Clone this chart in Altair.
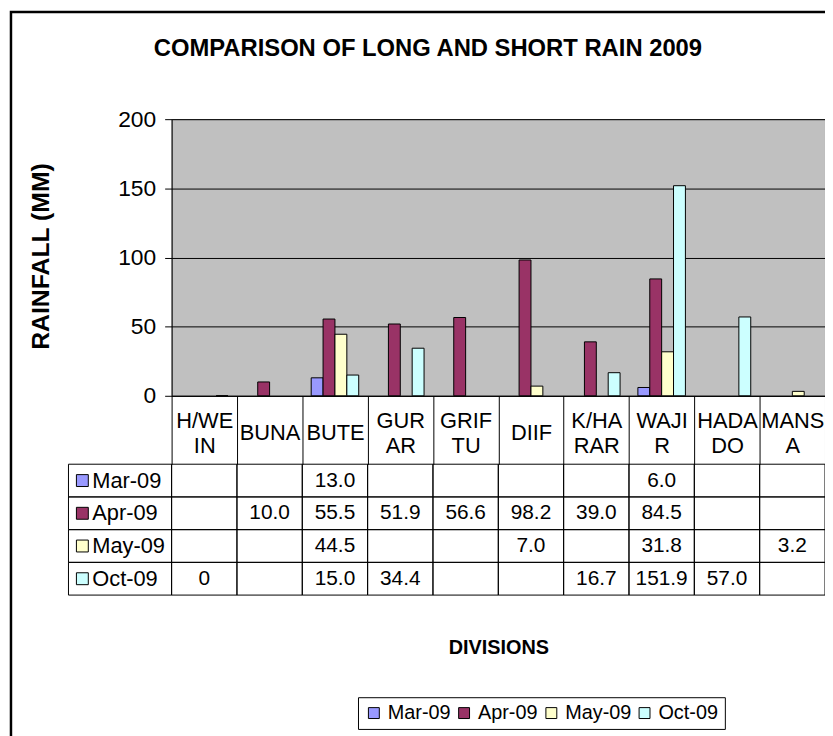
import altair as alt
import pandas as pd

# ---------------- data ----------------
divisions = ["H/WEIN", "BUNA", "BUTE", "GURAR", "GRIFTU", "DIIF", "K/HARAR", "WAJIR", "HADADO", "MANSA"]
header_lines = [["H/WE", "IN"], ["BUNA"], ["BUTE"], ["GUR", "AR"], ["GRIF", "TU"], ["DIIF"],
                ["K/HA", "RAR"], ["WAJI", "R"], ["HADA", "DO"], ["MANS", "A"]]
series = ["Mar-09", "Apr-09", "May-09", "Oct-09"]
mar_09 = [None, None, 13.0, None, None, None, None, 6.0, None, None]
apr_09 = [None, 10.0, 55.5, 51.9, 56.6, 98.2, 39.0, 84.5, None, None]
may_09 = [None, None, 44.5, None, None, 7.0, None, 31.8, None, 3.2]
oct_09 = [0, None, 15.0, 34.4, None, None, 16.7, 151.9, 57.0, None]
colors = ["#9999FF", "#993366", "#FFFFCC", "#CCFFFF"]
y_ticks = [0, 50, 100, 150, 200]

rows = []
for s, vals in zip(series, [mar_09, apr_09, may_09, oct_09]):
    for d, v in zip(divisions, vals):
        if v is not None:
            rows.append({"division": d, "series": s, "value": v,
                         "label": "0" if v == 0 else f"{v:.1f}"})
df = pd.DataFrame(rows)
cells = pd.DataFrame([{"division": d, "series": s} for s in series for d in divisions])
row_df = pd.DataFrame({"series": series})

# axis label expression built from the header lines
label_expr = "datum.label"
for d, lines in zip(divisions, header_lines):
    arr = "[" + ",".join(f"'{ln}'" for ln in lines) + "]" if len(lines) > 1 else f"'{lines[0]}'"
    label_expr = f"datum.label == '{d}' ? {arr} : ({label_expr})"
single = [d for d, lines in zip(divisions, header_lines) if len(lines) == 1]
single_test = "indexof([" + ",".join(f"'{d}'" for d in single) + "], datum.value) >= 0"

FONT = "Liberation Sans"
W, H = 659, 279
HEADER = 69
ROW_H = 33

x_scale = alt.Scale(domain=divisions, paddingInner=0, paddingOuter=0)
row_scale = alt.Scale(type="band", domain=series, range=[H + HEADER, H + HEADER + 4 * ROW_H],
                      paddingInner=0, paddingOuter=0)
color_scale = alt.Scale(domain=series, range=colors)

frame = alt.Chart(row_df.head(1)).mark_rect(
    fill="white", fillOpacity=0, stroke="black", strokeWidth=2.5
).encode(x=alt.value(-162), x2=alt.value(700), y=alt.value(-108), y2=alt.value(700))

bars = alt.Chart(df).mark_bar(stroke="black", strokeWidth=1).encode(
    x=alt.X("division:N", scale=x_scale, sort=divisions,
            axis=alt.Axis(title="DIVISIONS", labelAngle=0, labelExpr=label_expr,
                          labelFontSize=22, labelLineHeight=25,
                          labelBaseline=alt.condition(single_test, alt.value("line-top"), alt.value("middle")),
                          labelPadding=-(HEADER - 25), labelColor="black", labelFont=FONT,
                          tickBand="extent", tickSize=HEADER, tickColor="black", tickWidth=1,
                          domainColor="black", domainWidth=1, grid=False,
                          titleFontSize=20, titleFont=FONT, titleFontWeight="bold",
                          titleY=254, titleX=W / 2, titleBaseline="middle", titleColor="black")),
    xOffset=alt.XOffset("series:N", scale=alt.Scale(domain=series, paddingOuter=0.75, paddingInner=0)),
    y=alt.Y("value:Q", scale=alt.Scale(domain=[0, 200], nice=False),
            axis=alt.Axis(title="RAINFALL (MM)", values=y_ticks, labelFontSize=23, labelFont=FONT,
                          labelColor="black", labelPadding=9, tickSize=7, tickColor="black",
                          domainColor="black", gridColor="black", gridWidth=1,
                          titleFontSize=25, titleFont=FONT, titleFontWeight="bold",
                          titleX=-132, titleY=138, titleAlign="center", titleBaseline="middle",
                          titleColor="black")),
    color=alt.Color("series:N", scale=color_scale, sort=series,
                    legend=alt.Legend(title=None, orient="none", legendX=188, legendY=583,
                                      direction="horizontal", symbolType="square", symbolSize=121,
                                      symbolStrokeColor="black", symbolStrokeWidth=1,
                                      labelFontSize=20, labelFont=FONT, labelColor="black",
                                      labelOffset=4, columnPadding=3,
                                      strokeColor="black", fillColor="white", padding=6)),
)

table_cells = alt.Chart(cells).mark_rect(fill="white", fillOpacity=0, stroke="black", strokeWidth=1).encode(
    x=alt.X("division:N", scale=x_scale, sort=divisions),
    y=alt.Y("series:N", scale=row_scale, axis=None),
)

label_cells = alt.Chart(row_df).mark_rect(fill="white", fillOpacity=0, stroke="black", strokeWidth=1).encode(
    x=alt.value(-104), x2=alt.value(0),
    y=alt.Y("series:N", scale=row_scale, axis=None),
)

label_squares = alt.Chart(row_df).mark_point(shape="square", filled=True, size=144,
                                              stroke="black", strokeWidth=1, opacity=1).encode(
    x=alt.value(-90),
    y=alt.Y("series:N", scale=row_scale, axis=None),
    fill=alt.Fill("series:N", scale=color_scale, legend=None),
)

label_text = alt.Chart(row_df).mark_text(align="left", baseline="middle", fontSize=22, font=FONT,
                                         color="black").encode(
    x=alt.value(-80),
    y=alt.Y("series:N", scale=row_scale, axis=None),
    text="series:N",
)

values_text = alt.Chart(df).mark_text(baseline="middle", fontSize=21, font=FONT, color="black").encode(
    x=alt.X("division:N", scale=x_scale, sort=divisions),
    y=alt.Y("series:N", scale=row_scale, axis=None),
    text="label:N",
)

chart = alt.layer(frame, bars, table_cells, label_cells, label_squares, label_text, values_text).resolve_scale(
    y="independent", fill="independent"
).properties(
    width=W, height=H,
    title=alt.TitleParams("COMPARISON OF LONG AND SHORT RAIN 2009", fontSize=24, font=FONT,
                          fontWeight="bold", color="black", anchor="middle", dx=-71, offset=-51),
    padding={"left": 165, "top": 109, "right": 0, "bottom": 340},
    autosize=alt.AutoSizeParams(type="none"),
).configure_view(fill="#C0C0C0", stroke="#808080", strokeWidth=1)

chart.save("out.html", embed_options={"renderer": "svg", "actions": False})
